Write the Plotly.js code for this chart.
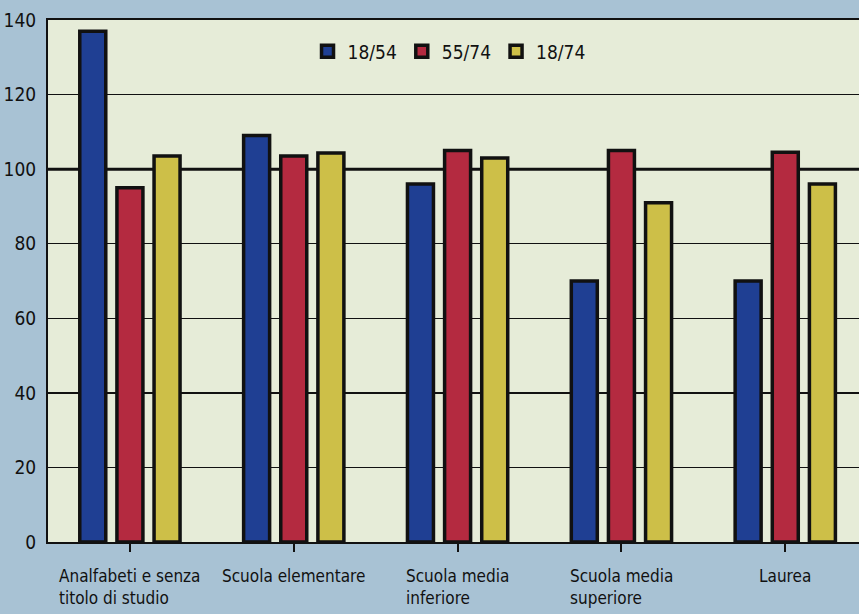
<!DOCTYPE html>
<html><head><meta charset="utf-8">
<script src="https://cdn.plot.ly/plotly-3.0.1.min.js"></script>
<style>html,body{margin:0;padding:0;background:#a8c2d4;}#chart{width:859px;height:614px;}</style>
</head><body><div id="chart"></div>
<script>
const categories = ["Analfabeti e senza<br>titolo di studio","Scuola elementare","Scuola media<br>inferiore","Scuola media<br>superiore","Laurea"];
const seriesNames = ["18/54","55/74","18/74"];
const v1854 = [137, 109, 96, 70, 70];
const v5574 = [95, 103.5, 105, 105, 104.5];
const v1874 = [103.5, 104.3, 103, 91, 96];
const yTicks = [0,20,40,60,80,100,120,140];
const colors = ["#1f3f93","#b42a40","#cdbf48"];
const values = [v1854, v5574, v1874];
const font = "DejaVu Sans Condensed, Liberation Sans Narrow, sans-serif";
const idx = categories.map((c,i)=>i);
const traces = values.map((v,k)=>({
  type:'bar', x: idx, y: v, name: seriesNames[k],
  marker:{color: colors[k], line:{color:'#111', width:3.5}}
}));
const annotations = categories.map((c,i)=>({
  x:i, y:0, xref:'x', yref:'y', yshift:-22, yanchor:'top', xanchor:'center',
  text:c, showarrow:false, align:'left',
  font:{family:font, size:17, color:'#111'}
}));
const layout = {
  width:859, height:614,
  margin:{l:48, r:0, t:20, b:72},
  paper_bgcolor:'#a8c2d4', plot_bgcolor:'#e6ecd8',
  barmode:'group', bargap:0.32, bargroupgap:0.3,
  showlegend:true,
  legend:{orientation:'h', x:0.32, y:0.94, xanchor:'left', yanchor:'middle',
    bgcolor:'rgba(0,0,0,0)', font:{family:font, size:19, color:'#111'}, itemwidth:30, traceorder:'normal'},
  xaxis:{range:[-0.5,4.45], tickvals:idx, ticktext:categories.map(()=>''), ticks:'outside', ticklen:8, tickwidth:2, tickcolor:'#111',
    showline:true, linecolor:'#111', linewidth:2, mirror:true, showgrid:false, zeroline:false, fixedrange:true},
  yaxis:{range:[0,140], tickvals:yTicks, ticks:'', showline:true, linecolor:'#111', linewidth:2,
    showgrid:true, gridcolor:'#111', gridwidth:1.5, zeroline:false,
    tickfont:{family:font, size:19, color:'#111'}, ticklabelstandoff:6},
  shapes:[{type:'line', xref:'paper', x0:0, x1:1, yref:'y', y0:100, y1:100, line:{color:'#111', width:3}, layer:'below'}],
  annotations: annotations
};
Plotly.newPlot('chart', traces, layout, {displayModeBar:false, staticPlot:true});
</script></body></html>
